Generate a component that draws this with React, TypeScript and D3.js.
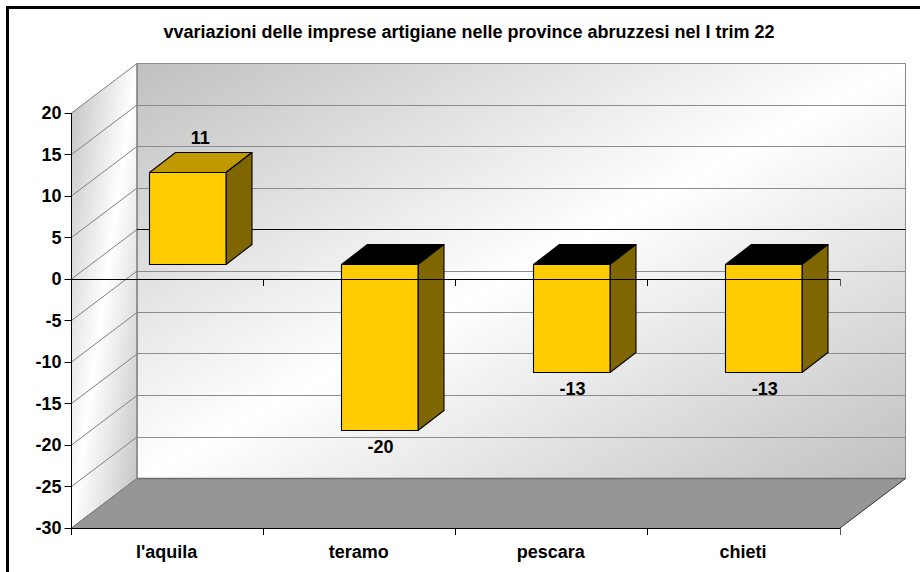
import React from "react";
import * as d3 from "d3";

const titleText = "vvariazioni delle imprese artigiane nelle province abruzzesi nel I trim 22";
const categories = ["l'aquila", "teramo", "pescara", "chieti"];
const values = [11, -20, -13, -13];
const yTicks = [20, 15, 10, 5, 0, -5, -10, -15, -20, -25, -30];

const W = 920, H = 572;
const y = d3.scaleLinear().domain([-30, 20]).range([528, 113]);
const x = d3.scaleBand<string>().domain(categories).range([71.5, 840]);
const DX = 65.5, DY = -49.5;
const barDX = 26, barDY = -20;
const offDX = 19.75, offDY = -14.8;
const barW = 76.5;

const pts = (a: [number, number][]) => a.map((p) => p.join(",")).join(" ");
const snap = (v: number) => Math.floor(v) + 0.5;

export default function App() {
  const x0 = x.range()[0], x1 = x.range()[1];
  const yTop = y(20), yBot = y(-30);
  return (
    <svg width={W} height={H} style={{ position: "absolute", left: 0, top: 0, fontFamily: "'Liberation Sans', Arial, sans-serif", fontWeight: "bold" }}>
      <defs>
        <linearGradient id="wall" x1="0" y1="0" x2="1" y2="1">
          <stop offset="0" stopColor="#c0c0c0" />
          <stop offset="0.5" stopColor="#ffffff" />
          <stop offset="1" stopColor="#c0c0c0" />
        </linearGradient>
      </defs>
      <rect x={0} y={0} width={W} height={H} fill="#fff" />
      <path d={`M7.5 ${H} V7.5 H${W}`} fill="none" stroke="#000" strokeWidth={3} />
      <text x={469} y={38} textAnchor="middle" fontSize={18} fill="#000">{titleText}</text>

      {/* walls and floor */}
      <rect x={x0 + DX} y={snap(yTop + DY)} width={x1 - x0} height={yBot - yTop} fill="url(#wall)" stroke="#8a8a8a" strokeWidth={1} />
      <polygon points={pts([[x0, yTop], [x0 + DX, yTop + DY], [x0 + DX, yBot + DY], [x0, yBot]])} fill="url(#wall)" stroke="#808080" strokeWidth={1} />
      <line x1={x0 + DX} x2={x0 + DX} y1={yTop + DY} y2={yBot + DY} stroke="#8c8c8c" strokeWidth={1.4} />
      <polygon points={pts([[x0, yBot], [x0 + DX, yBot + DY], [x1 + DX, yBot + DY], [x1, yBot]])} fill="#969696" />
      <line x1={x0 + DX} x2={x1 + DX} y1={snap(yBot + DY)} y2={snap(yBot + DY)} stroke="#6e6e6e" strokeWidth={1.4} />
      <line x1={x0} x2={x0 + DX} y1={yBot} y2={yBot + DY} stroke="#777" strokeWidth={1} />
      <line x1={x1} x2={x1 + DX} y1={yBot} y2={yBot + DY} stroke="#333" strokeWidth={1} />

      {/* gridlines */}
      {yTicks.filter((t) => t !== 20 && t !== -30).map((t) => (
        <g key={t} strokeWidth={1} fill="none">
          <line x1={x0} y1={y(t)} x2={x0 + DX} y2={y(t) + DY} stroke="#808080" />
          <line x1={x0 + DX} y1={snap(y(t) + DY)} x2={x1 + DX} y2={snap(y(t) + DY)} stroke={t === 0 ? "#000" : "#8c8c8c"} />
        </g>
      ))}

      {/* bars */}
      {categories.map((c, i) => {
        const v = values[i];
        const left = snap((x(c) as number) + (x.bandwidth() - barW) / 2 + offDX);
        const right = left + barW;
        const yz = y(0) + offDY;
        const yv = y(v) + offDY;
        const top = snap(Math.min(yz, yv)), bot = snap(Math.max(yz, yv));
        const capFill = v >= 0 ? "#bf9900" : "#000000";
        return (
          <g key={c} stroke="#000" strokeWidth={1.1} strokeLinejoin="round">
            <polygon points={pts([[left, top], [left + barDX, top + barDY], [right + barDX, top + barDY], [right, top]])} fill={capFill} />
            <polygon points={pts([[right, top], [right + barDX, top + barDY], [right + barDX, bot + barDY], [right, bot]])} fill="#806600" />
            <rect x={left} y={top} width={barW} height={bot - top} fill="#ffcc00" />
          </g>
        );
      })}

      {/* axes */}
      <line x1={x0} x2={x0} y1={yTop} y2={yBot + 7} stroke="#000" strokeWidth={1} />
      {yTicks.map((t) => (
        <g key={t}>
          <line x1={x0 - 7} x2={x0} y1={snap(y(t))} y2={snap(y(t))} stroke="#000" strokeWidth={1} />
          <text x={x0 - 10} y={y(t) + 6} textAnchor="end" fontSize={18} fill="#000">{t}</text>
        </g>
      ))}
      <line x1={x0} x2={x1} y1={snap(y(0))} y2={snap(y(0))} stroke="#000" strokeWidth={1} />
      <line x1={x0} x2={x1} y1={snap(yBot)} y2={snap(yBot)} stroke="#000" strokeWidth={1.2} />
      {d3.range(categories.length + 1).map((i) => {
        const tx = snap(x0 + i * x.step());
        return (
          <g key={i} stroke={i === 4 ? "#555" : "#000"} strokeWidth={1}>
            <line x1={tx} x2={tx} y1={y(0)} y2={y(0) + 7} />
            <line x1={tx} x2={tx} y1={yBot} y2={yBot + 7} />
          </g>
        );
      })}

      {/* labels */}
      {categories.map((c, i) => {
        const v = values[i];
        const cx = (x(c) as number) + x.bandwidth() / 2;
        const labelX = cx + offDX + barDX / 2 - (v < 0 ? 12 : 0);
        const labelY = v >= 0 ? y(v) + offDY - 29 : y(v) + offDY + 22.5;
        return (
          <g key={c}>
            <text x={labelX} y={labelY} textAnchor="middle" fontSize={18} fill="#000">{v}</text>
            <text x={cx - 1} y={558} textAnchor="middle" fontSize={18} fill="#000">{c}</text>
          </g>
        );
      })}
    </svg>
  );
}
